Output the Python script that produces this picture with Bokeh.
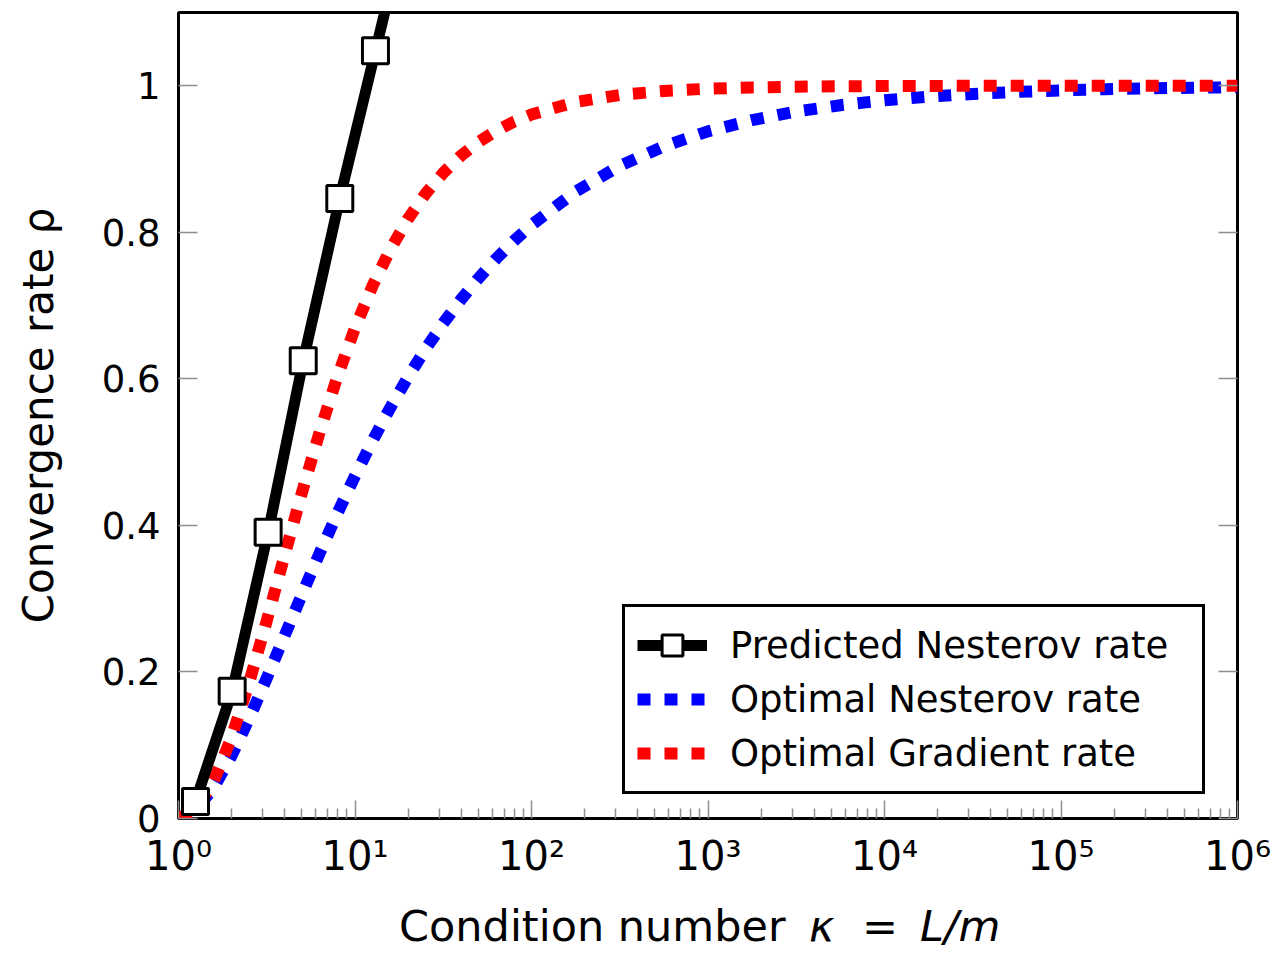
from bokeh.plotting import figure
from bokeh.layouts import column
from bokeh.models import LinearAxis, FixedTicker, Legend, LegendItem, Range1d
from bokeh.core.properties import value
from bokeh.embed import file_html
from bokeh.resources import INLINE

# ---------------- data ----------------
kappa = [1, 1.259, 1.585, 1.995, 2.512, 3.162, 3.981, 5.012, 6.31, 7.943,
         10, 12.59, 15.85, 19.95, 25.12, 31.62, 39.81, 50.12, 63.1, 79.43,
         100, 177.8, 316.2, 562.3, 1000, 1778, 3162, 5623, 1e4, 17780,
         31620, 56230, 1e5, 177800, 316200, 562300, 1e6]
rho_nesterov_opt = [0, 0.0118, 0.0423, 0.0853, 0.1362, 0.1916, 0.2488, 0.3061, 0.3623, 0.4163,
                    0.4675, 0.5158, 0.5607, 0.6024, 0.6408, 0.6760, 0.7081, 0.7374, 0.7641, 0.7882,
                    0.81, 0.8556, 0.8907, 0.9174, 0.9378, 0.9531, 0.9648, 0.9735, 0.9801, 0.9851,
                    0.9888, 0.9916, 0.9937, 0.9953, 0.9965, 0.9973, 0.9980]
rho_gradient_opt = [0, 0.0131, 0.0512, 0.1104, 0.1853, 0.2699, 0.3582, 0.4453, 0.5276, 0.6028,
                    0.6694, 0.7273, 0.7767, 0.8182, 0.8527, 0.8811, 0.9044, 0.9233, 0.9386, 0.9509,
                    0.9608, 0.9778, 0.9874, 0.9929, 0.9960, 0.9978, 0.9987, 0.9993, 0.9996, 0.9998,
                    0.9999, 0.9999, 1.0, 1.0, 1.0, 1.0, 1.0]
kappa_pred = [1.248, 2.014, 3.22, 5.09, 8.20, 13.06, 20.8]
rho_pred = [0.0232, 0.1737, 0.3906, 0.6248, 0.8463, 1.0477, 1.25]

x_ticks = [1, 10, 100, 1000, 10000, 100000, 1000000]
x_tick_labels = ["10⁰", "10¹", "10²", "10³", "10⁴", "10⁵", "10⁶"]
y_ticks = [0, 0.2, 0.4, 0.6, 0.8, 1]
y_tick_labels = ["0", "0.2", "0.4", "0.6", "0.8", "1"]
series_labels = ["Predicted Nesterov rate", "Optimal Nesterov rate", "Optimal Gradient rate"]
x_title_plain = ["Condition number", "="]
x_title_math = ["κ", "L/m"]
y_title = "Convergence rate ρ"

FONT = "DejaVu Sans"
TICK_GRAY = "#8f8f8f"
W = 1275
TOP_H = 885
BOT_H = 957 - TOP_H
LEFT, RIGHT = 178, 38

# ---------------- main plot ----------------
p = figure(width=W, height=TOP_H, x_axis_type="log", x_range=(1, 1e6), y_range=(0, 1.1),
           output_backend="svg", toolbar_location=None)
p.min_border_left = LEFT
p.min_border_right = RIGHT
p.min_border_top = 12
p.min_border_bottom = TOP_H - 818
p.background_fill_color = "white"
p.border_fill_color = "white"
p.outline_line_color = "black"
p.outline_line_width = 3
p.xgrid.visible = False
p.ygrid.visible = False

minor = [m * 10 ** k for k in range(6) for m in range(2, 10)]
xt = FixedTicker(ticks=x_ticks, minor_ticks=minor)
yt = FixedTicker(ticks=y_ticks)

xa = p.xaxis[0]
xa.ticker = xt
xa.major_label_overrides = {t: s for t, s in zip(x_ticks, x_tick_labels)}
xa.major_label_text_font = FONT
xa.major_label_text_font_size = "40px"
xa.major_label_text_color = "black"
xa.major_label_standoff = 14
xa.major_tick_in = 18
xa.major_tick_out = 0
xa.minor_tick_in = 10
xa.minor_tick_out = 0
xa.major_tick_line_color = TICK_GRAY
xa.minor_tick_line_color = TICK_GRAY
xa.major_tick_line_width = 1.5
xa.minor_tick_line_width = 1.5
xa.axis_line_color = None

ya = p.yaxis[0]
ya.ticker = yt
ya.major_label_overrides = {t: s for t, s in zip(y_ticks, y_tick_labels)}
ya.major_tick_in = 19
ya.major_tick_out = 0
ya.minor_tick_line_color = None
ya.major_tick_line_color = TICK_GRAY
ya.major_tick_line_width = 1.5
ya.axis_line_color = None
ya.major_label_text_font = FONT
ya.major_label_text_font_size = "37px"
ya.major_label_text_color = "black"
ya.major_label_standoff = 18
ya.axis_label = y_title
ya.axis_label_text_font = FONT
ya.axis_label_text_font_size = "42px"
ya.axis_label_text_font_style = "normal"
ya.axis_label_text_color = "black"
ya.axis_label_standoff = 36

ra = LinearAxis(ticker=yt, major_label_overrides={t: "" for t in y_ticks},
                major_tick_in=19, major_tick_out=0, minor_tick_line_color=None,
                major_tick_line_color=TICK_GRAY, major_tick_line_width=1.5,
                axis_line_color=None, major_label_text_font_size="1px")
p.add_layout(ra, "right")

r_blue = p.line(kappa, rho_nesterov_opt, line_color="#0000ff", line_width=12,
                line_dash="13 14", line_cap="butt")
r_red = p.line(kappa, rho_gradient_opt, line_color="#ff0000", line_width=12,
               line_dash="13 14", line_cap="butt")
r_black = p.line(kappa_pred, rho_pred, line_color="black", line_width=11)
r_pts = p.scatter(kappa_pred, rho_pred, marker="square", size=26, fill_color="white",
                  line_color="black", line_width=3)

legend = Legend(items=[
    LegendItem(label=series_labels[0], renderers=[r_black, r_pts]),
    LegendItem(label=series_labels[1], renderers=[r_blue]),
    LegendItem(label=series_labels[2], renderers=[r_red]),
], location=(444, 24))
legend.label_text_font = FONT
legend.label_text_font_size = "37px"
legend.label_text_color = "black"
legend.glyph_width = 70
legend.glyph_height = 52
legend.label_height = 52
legend.label_width = 460
legend.label_standoff = 23
legend.spacing = 2
legend.padding = 12
legend.margin = 0
legend.border_line_color = "black"
legend.border_line_alpha = 1
legend.border_line_width = 3
legend.background_fill_color = "white"
legend.background_fill_alpha = 1
p.add_layout(legend)

# ---------------- strip below: x title with italic math parts ----------------
q = figure(width=W, height=BOT_H, x_axis_type="log", x_range=p.x_range,
           y_range=Range1d(0, BOT_H), x_axis_location=None, y_axis_location=None,
           output_backend="svg", toolbar_location=None)
q.min_border_left = LEFT
q.min_border_right = RIGHT
q.min_border_top = 0
q.min_border_bottom = 0
q.outline_line_color = None
q.background_fill_color = "white"
q.border_fill_color = "white"
q.xgrid.visible = False
q.ygrid.visible = False

ty = BOT_H - (940 - TOP_H) + 15
q.text(x=[1000, 1000], y=[ty, ty], text=x_title_plain, x_offset=[-309, 154],
       text_align="left", text_baseline="alphabetic",
       text_font=value(FONT), text_font_size=value("43px"), text_color="black")
q.text(x=[1000, 1000], y=[ty, ty], text=x_title_math, x_offset=[101, 212],
       text_align="left", text_baseline="alphabetic",
       text_font=value(FONT), text_font_size=value("43px"), text_font_style="italic",
       text_color="black")

layout = column(p, q, spacing=0)
open("out.html", "w").write(file_html(layout, INLINE))
